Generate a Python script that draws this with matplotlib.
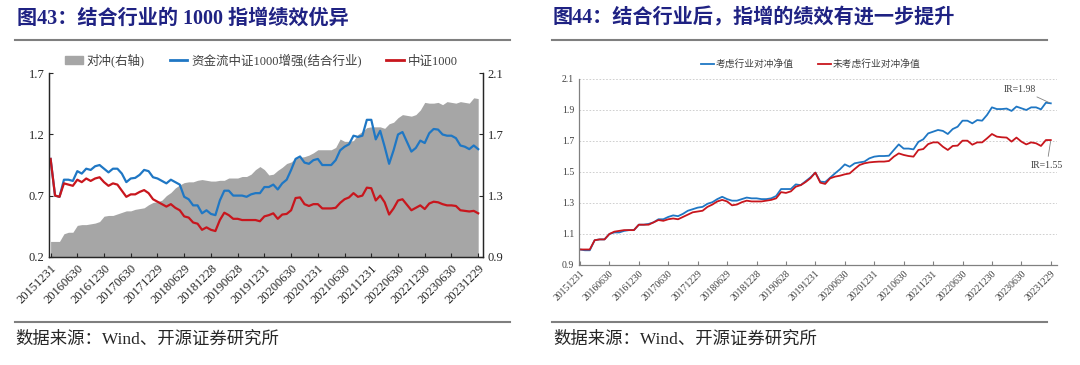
import numpy as np
import matplotlib
matplotlib.use("Agg")
import matplotlib.pyplot as plt
from matplotlib.lines import Line2D
from matplotlib.patches import Patch

plt.rcParams['font.family'] = ['Liberation Serif', 'Noto Sans CJK SC']
plt.rcParams['axes.unicode_minus'] = False

# 月度日期刻度（每半年一个标签）
tick_labels = ['20151231', '20160630', '20161230', '20170630', '20171229', '20180629',
               '20181228', '20190628', '20191231', '20200630', '20201231', '20210630',
               '20211231', '20220630', '20221230', '20230630', '20231229']

# 图43 数据
hedge = [1.00, 1.00, 1.00, 1.05, 1.06, 1.06, 1.105, 1.11, 1.11, 1.115, 1.12, 1.13,
         1.165, 1.17, 1.17, 1.18, 1.19, 1.20, 1.20, 1.21, 1.215, 1.22, 1.24, 1.255,
         1.26, 1.27, 1.30, 1.32, 1.35, 1.37, 1.385, 1.39, 1.39, 1.40, 1.405, 1.40,
         1.395, 1.395, 1.40, 1.40, 1.415, 1.415, 1.415, 1.425, 1.425, 1.44, 1.47, 1.49,
         1.47, 1.435, 1.44, 1.465, 1.485, 1.51, 1.52, 1.545, 1.55, 1.555, 1.565, 1.58,
         1.60, 1.60, 1.60, 1.60, 1.615, 1.67, 1.655, 1.655, 1.66, 1.70, 1.72, 1.745,
         1.75, 1.75, 1.75, 1.74, 1.77, 1.78, 1.81, 1.83, 1.825, 1.82, 1.83, 1.86,
         1.91, 1.905, 1.905, 1.91, 1.895, 1.915, 1.91, 1.905, 1.915, 1.91, 1.905, 1.94,
         1.935]
zjl = [1.00, 0.70, 0.69, 0.83, 0.83, 0.82, 0.90, 0.88, 0.92, 0.91, 0.94, 0.95,
       0.92, 0.89, 0.92, 0.92, 0.88, 0.81, 0.84, 0.845, 0.87, 0.91, 0.90, 0.85,
       0.84, 0.82, 0.80, 0.83, 0.81, 0.79, 0.69, 0.67, 0.62, 0.62, 0.555, 0.58,
       0.55, 0.54, 0.66, 0.74, 0.74, 0.70, 0.70, 0.70, 0.69, 0.71, 0.72, 0.72,
       0.77, 0.77, 0.79, 0.75, 0.80, 0.83, 0.91, 1.00, 1.02, 0.97, 0.96, 0.99,
       1.00, 0.95, 0.95, 0.95, 0.99, 1.07, 1.10, 1.12, 1.19, 1.18, 1.19, 1.32,
       1.32, 1.16, 1.23, 1.10, 0.96, 1.07, 1.20, 1.22, 1.14, 1.06, 1.09, 1.15,
       1.13, 1.21, 1.245, 1.24, 1.20, 1.19, 1.19, 1.17, 1.11, 1.10, 1.08, 1.11,
       1.08]
zz1000 = [1.00, 0.70, 0.69, 0.80, 0.79, 0.78, 0.83, 0.81, 0.84, 0.82, 0.84, 0.85,
          0.81, 0.78, 0.80, 0.79, 0.74, 0.69, 0.71, 0.71, 0.73, 0.745, 0.72, 0.67,
          0.65, 0.63, 0.61, 0.63, 0.60, 0.58, 0.53, 0.52, 0.48, 0.47, 0.42, 0.44,
          0.42, 0.41, 0.50, 0.56, 0.54, 0.51, 0.51, 0.50, 0.50, 0.50, 0.50, 0.49,
          0.53, 0.54, 0.555, 0.51, 0.545, 0.55, 0.58, 0.68, 0.685, 0.63, 0.615, 0.63,
          0.63, 0.595, 0.595, 0.595, 0.60, 0.64, 0.67, 0.685, 0.72, 0.69, 0.70, 0.765,
          0.76, 0.66, 0.70, 0.645, 0.545, 0.595, 0.66, 0.67, 0.625, 0.58, 0.60, 0.62,
          0.59, 0.635, 0.65, 0.645, 0.63, 0.62, 0.62, 0.615, 0.58, 0.575, 0.57, 0.575,
          0.555]

# 图44 数据
with_ind = [1.00, 0.995, 0.995, 1.06, 1.065, 1.065, 1.10, 1.11, 1.11, 1.12, 1.125, 1.125,
            1.16, 1.16, 1.165, 1.175, 1.195, 1.195, 1.21, 1.22, 1.215, 1.23, 1.25, 1.26,
            1.27, 1.275, 1.295, 1.305, 1.325, 1.34, 1.325, 1.315, 1.315, 1.325, 1.335, 1.33,
            1.33, 1.325, 1.325, 1.33, 1.345, 1.39, 1.39, 1.39, 1.42, 1.415, 1.44, 1.465,
            1.496, 1.438, 1.435, 1.463, 1.491, 1.517, 1.549, 1.534, 1.556, 1.562, 1.567, 1.588,
            1.599, 1.603, 1.603, 1.605, 1.642, 1.678, 1.651, 1.651, 1.646, 1.694, 1.711, 1.749,
            1.760, 1.771, 1.765, 1.745, 1.777, 1.792, 1.831, 1.831, 1.814, 1.835, 1.831, 1.868,
            1.917, 1.906, 1.906, 1.909, 1.894, 1.922, 1.911, 1.900, 1.917, 1.917, 1.904, 1.947,
            1.943]
without_ind = [1.00, 1.00, 1.00, 1.06, 1.065, 1.065, 1.10, 1.115, 1.12, 1.125, 1.125, 1.125,
               1.16, 1.16, 1.16, 1.175, 1.19, 1.185, 1.195, 1.20, 1.195, 1.21, 1.225, 1.24,
               1.245, 1.25, 1.275, 1.29, 1.31, 1.32, 1.31, 1.285, 1.29, 1.305, 1.315, 1.31,
               1.31, 1.31, 1.315, 1.32, 1.33, 1.37, 1.365, 1.375, 1.405, 1.415, 1.435, 1.46,
               1.496, 1.431, 1.423, 1.459, 1.470, 1.476, 1.485, 1.491, 1.519, 1.545, 1.556, 1.562,
               1.565, 1.567, 1.567, 1.571, 1.599, 1.620, 1.610, 1.603, 1.599, 1.642, 1.648, 1.680,
               1.691, 1.691, 1.663, 1.642, 1.668, 1.670, 1.702, 1.702, 1.676, 1.691, 1.691, 1.717,
               1.745, 1.728, 1.724, 1.722, 1.696, 1.722, 1.696, 1.678, 1.691, 1.685, 1.668, 1.706,
               1.706]

x = np.arange(len(hedge))
ticks = np.arange(0, len(hedge), 6)

blue = '#1F77C4'
red = '#C8161D'
navy = '#1F2283'
cjk = ['Liberation Serif', 'Noto Sans CJK SC']

fig = plt.figure(figsize=(10.8, 3.65), dpi=100)

# ---------- 图43 ----------
ax1 = fig.add_axes([0.0456, 0.2967, 0.4013, 0.5023])
ax2 = ax1.twinx()
ax2.fill_between(x, 0.9, hedge, color='#A6A6A6', lw=0)
ax2.set_ylim(0.9, 2.1)
ax2.set_yticks([0.9, 1.3, 1.7, 2.1])
ax1.plot(x, zjl, color=blue, lw=1.6)
ax1.plot(x, zz1000, color=red, lw=1.6)
ax1.set_zorder(ax2.get_zorder() + 1)
ax1.patch.set_visible(False)
ax1.set_ylim(0.2, 1.7)
ax1.set_yticks([0.2, 0.7, 1.2, 1.7])
ax1.set_xlim(-0.3, 97.0)
ax1.set_xticks(ticks)
ax1.set_xticklabels(tick_labels, rotation=45, ha='right', rotation_mode='anchor',
                    fontsize=8.5, color='#262626')
for a in (ax1, ax2):
    a.spines['top'].set_visible(False)
    for s in a.spines.values():
        s.set_color('#262626')
        s.set_linewidth(0.9)
    a.tick_params(labelsize=9, colors='#262626', length=3, width=0.8)
ax1.tick_params(axis='x', direction='in', pad=4)
ax1.tick_params(axis='y', direction='in')
ax2.tick_params(axis='y', direction='in')
handles = [Patch(color='#A6A6A6'), Line2D([], [], color=blue, lw=2), Line2D([], [], color=red, lw=2)]
labels = ['对冲(右轴)', '资金流中证1000增强(结合行业)', '中证1000']
ax1.legend(handles, labels, loc='center', bbox_to_anchor=(0.49, 1.07), ncol=3, frameon=False,
           prop={'family': cjk, 'size': 9}, handlelength=1.4, handleheight=0.5,
           columnspacing=2.0, handletextpad=0.3, labelcolor='#404040')

# ---------- 图44 ----------
ax3 = fig.add_axes([0.5361, 0.274, 0.4423, 0.5096])
ax3.plot(x, with_ind, color=blue, lw=1.3, label='考虑行业对冲净值')
ax3.plot(x, without_ind, color=red, lw=1.3, label='未考虑行业对冲净值')
ax3.set_ylim(0.9, 2.1)
ax3.set_yticks(np.arange(0.9, 2.11, 0.2))
ax3.set_yticklabels(['0.9', '1.1', '1.3', '1.5', '1.7', '1.9', '2.1'])
ax3.set_xlim(-0.2, 97.2)
ax3.set_xticks(ticks)
ax3.set_xticklabels(tick_labels, rotation=45, ha='right', rotation_mode='anchor',
                    fontsize=7, color='#404040')
ax3.grid(axis='y', color='#C8C8C8', ls=(0, (2, 2)), lw=0.6)
for s in ['top', 'right']:
    ax3.spines[s].set_visible(False)
for s in ['left', 'bottom']:
    ax3.spines[s].set_color('#808080')
    ax3.spines[s].set_linewidth(0.9)
ax3.tick_params(axis='y', labelsize=7, colors='#404040', length=0)
ax3.tick_params(axis='x', direction='in', length=3, color='#808080', pad=3)
ax3.legend(loc='center', bbox_to_anchor=(0.485, 1.08), ncol=2, frameon=False,
           prop={'family': cjk, 'size': 7}, handlelength=1.3, columnspacing=2.5,
           handletextpad=0.2, labelcolor='#404040')
ax3.annotate('IR=1.98', xy=(96, with_ind[-1]), xytext=(93.0, 2.035), ha='right', va='center',
             fontsize=7, color='#404040',
             arrowprops=dict(arrowstyle='-', color='#808080', lw=0.6, shrinkA=1, shrinkB=1))
ax3.annotate('IR=1.55', xy=(96, without_ind[-1]), xytext=(95.2, 1.545), ha='center', va='center',
             fontsize=7, color='#404040',
             arrowprops=dict(arrowstyle='-', color='#808080', lw=0.6, shrinkA=1, shrinkB=1))

# ---------- 标题、分隔线、来源 ----------
fig.text(0.0157, 0.949, '图43：结合行业的 1000 指增绩效优异', family=cjk, fontsize=14.5,
         fontweight='bold', color=navy, va='center')
fig.text(0.512, 0.949, '图44：结合行业后，指增的绩效有进一步提升', family=cjk, fontsize=14.5,
         fontweight='bold', color=navy, va='center')
for x0, x1 in [(0.0139, 0.472), (0.511, 0.9694)]:
    fig.add_artist(Line2D([x0, x1], [0.8904, 0.8904], color='#7F7F7F', lw=1.5))
    fig.add_artist(Line2D([x0, x1], [0.1178, 0.1178], color='#7F7F7F', lw=1.5))
fig.text(0.0139, 0.071, '数据来源：Wind、开源证券研究所', family=cjk, fontsize=12.5,
         color='#262626', va='center')
fig.text(0.512, 0.071, '数据来源：Wind、开源证券研究所', family=cjk, fontsize=12.5,
         color='#262626', va='center')

fig.savefig('out.png', dpi=100)
